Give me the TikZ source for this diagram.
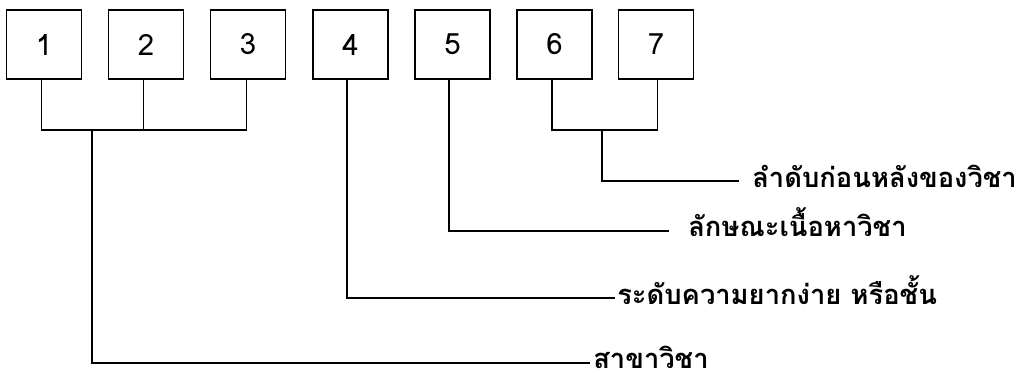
\documentclass[tikz,border=0pt]{standalone}
\usepackage{fontspec}
\newfontfamily\thaifont[Script=Thai]{Loma}
\tikzset{
  digitbox/.style={draw,line width=1.2pt,minimum width=56pt,minimum height=52pt,inner sep=0pt,font=\thaifont\fontsize{22}{26}\selectfont},
  tiline/.style={line width=1.2pt},
  topic/.style={anchor=base west,inner sep=0pt,font=\thaifont\bfseries\fontsize{20.5}{26}\selectfont}
}
\begin{document}
\begin{tikzpicture}[x=0.75pt,y=-0.75pt]
\useasboundingbox (0,0) rectangle (1027,383);

\node[digitbox] (b1) at (44,44.5) {1};
\node[digitbox] (b2) at (146,44.5) {2};
\node[digitbox] (b3) at (248,44.5) {3};
\node[digitbox] (b4) at (350.5,44.5) {4};
\node[digitbox] (b5) at (452.5,44.5) {5};
\node[digitbox] (b6) at (554.5,44.5) {6};
\node[digitbox] (b7) at (656,44.5) {7};

\node[topic] (subj) at (593,368) {สาขาวิชา};
\node[topic] (level) at (617,304) {ระดับความยากง่าย หรือชั้น};
\node[topic] (content) at (688,236) {ลักษณะเนื้อหาวิชา};
\node[topic] (order) at (752,187) {ลำดับก่อนหลังของวิชา};

\coordinate (j123) at (92,130);
\coordinate (j67) at (602,130);

\draw[tiline] ([xshift=-2pt]b1.south) |- (j123) -| ([xshift=-1pt]b3.south);
\draw[tiline] ([xshift=-2pt]b2.south) -- ([xshift=-2pt]b2.south |- j123);
\draw[tiline] (j123) |- ([xshift=-2pt]subj.west |- 0,363);

\draw[tiline] ([xshift=-2.5pt]b4.south) |- ([xshift=-1.5pt]level.west |- 0,298);
\draw[tiline] ([xshift=-2.5pt]b5.south) |- ([xshift=-14pt]content.west |- 0,231);

\draw[tiline] ([xshift=-2pt]b6.south) |- (j67) -| ([xshift=1pt]b7.south);
\draw[tiline] (j67) |- ([xshift=-10pt]order.west |- 0,181);
\end{tikzpicture}
\end{document}
